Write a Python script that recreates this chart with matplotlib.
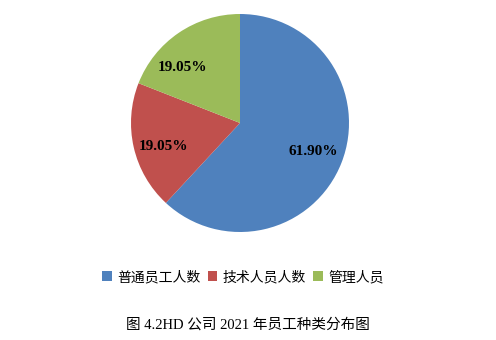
import matplotlib
matplotlib.use("Agg")
import matplotlib.pyplot as plt
from matplotlib.patches import Patch

categories = ["普通员工人数", "技术人员人数", "管理人员"]
values = [61.90, 19.05, 19.05]
colors = ["#4F81BD", "#C0504D", "#9BBB59"]
title = "图 4.2HD 公司 2021 年员工种类分布图"

W, H = 496, 340
fig = plt.figure(figsize=(W / 100, H / 100), dpi=100)
cx, cy, r = 240, 123, 109
ax = fig.add_axes([(cx - r) / W, 1 - (cy + r) / H, 2 * r / W, 2 * r / H])

wedges, texts, autotexts = ax.pie(
    values, colors=colors, startangle=90, counterclock=False,
    autopct=lambda p: f"{p:.2f}%", pctdistance=0.72,
    wedgeprops=dict(linewidth=0),
    textprops=dict(family="Liberation Serif", fontweight="bold", fontsize=11, color="black"),
)
# nudge label positions to resemble the original layout
autotexts[1].set_position((-0.70, -0.22))
autotexts[2].set_position((-0.53, 0.51))
ax.set_xlim(-1, 1)
ax.set_ylim(-1, 1)
ax.set_aspect("equal")
ax.axis("off")

handles = [Patch(facecolor=c, edgecolor="none") for c in colors]
fig.legend(handles, categories, loc="center", bbox_to_anchor=(0.49, 1 - 277 / H),
           ncol=3, frameon=False, handlelength=0.7, handleheight=0.7,
           handletextpad=0.4, columnspacing=0.5,
           prop=dict(family=["Noto Sans CJK SC"], size=10))

fig.text(0.5, 1 - 325 / H, title, ha="center", va="center",
         family=["Liberation Serif", "Noto Sans CJK SC"], fontsize=10.5)

fig.savefig("out.png", dpi=100, facecolor="white")
